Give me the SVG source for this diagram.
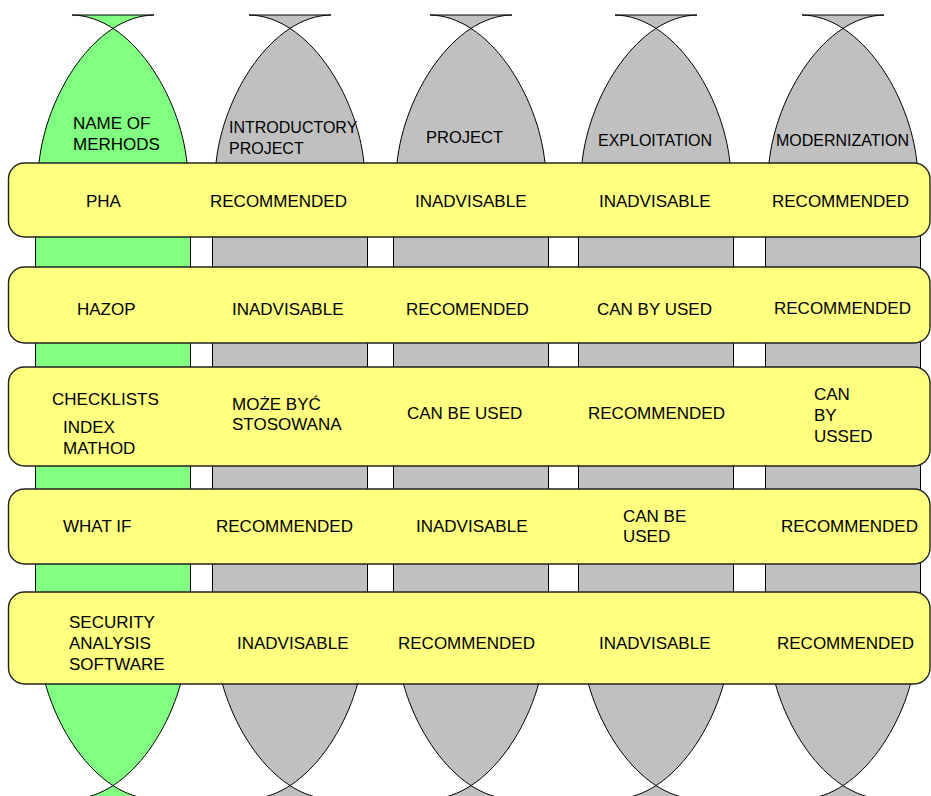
<svg xmlns="http://www.w3.org/2000/svg" xmlns:xlink="http://www.w3.org/1999/xlink" width="931" height="796" viewBox="0 0 931 796">
<style>
.green{fill:#80FF80;stroke:#000;stroke-width:1}
.gray{fill:#C0C0C0;stroke:#000;stroke-width:1}
.band{fill:#FFFF80;stroke:#222;stroke-width:1.4}
text{font-family:"Liberation Sans",Arial,sans-serif;fill:#000}
.h{font-size:16px}
.t{font-size:17px}
</style>
<defs>
<path id="archTop" d="M -74 170 L -74 163 C -67 95 -18 16 41 15 L -41 15 C 18 16 67 95 74 163 L 74 170 Z"/>
<path id="archBot" d="M -74 644 L -74 651 C -67 719 -18 798 41 799 L -41 799 C 18 798 67 719 74 651 L 74 644 Z"/>
<rect id="body" x="-77.5" y="172" width="155" height="505"/>
</defs>

<g id="col-1" class="green">
<use xlink:href="#body" x="113"/>
<use xlink:href="#archTop" x="113"/>
<use xlink:href="#archBot" x="113"/>
<text class="t" x="73" y="129" stroke="none">NAME OF</text>
<text class="t" x="73" y="150" stroke="none">MERHODS</text>
</g>
<g id="col-2" class="gray">
<use xlink:href="#body" x="290"/>
<use xlink:href="#archTop" x="290"/>
<use xlink:href="#archBot" x="290"/>
<text class="h" x="229" y="133" stroke="none">INTRODUCTORY</text>
<text class="h" x="229" y="154" stroke="none">PROJECT</text>
</g>
<g id="col-3" class="gray">
<use xlink:href="#body" x="471"/>
<use xlink:href="#archTop" x="471"/>
<use xlink:href="#archBot" x="471"/>
<text x="426" y="143" stroke="none" font-size="16.5">PROJECT</text>
</g>
<g id="col-4" class="gray">
<use xlink:href="#body" x="656"/>
<use xlink:href="#archTop" x="656"/>
<use xlink:href="#archBot" x="656"/>
<text class="h" x="598" y="146" stroke="none">EXPLOITATION</text>
</g>
<g id="col-5" class="gray">
<use xlink:href="#body" x="843"/>
<use xlink:href="#archTop" x="843"/>
<use xlink:href="#archBot" x="843"/>
<text class="h" x="776" y="146" stroke="none">MODERNIZATION</text>
</g>

<g id="row-pha">
<rect class="band" x="8.5" y="163" width="921.5" height="74" rx="16"/>
<text class="t" x="86" y="207">PHA</text>
<text class="t" x="210" y="207">RECOMMENDED</text>
<text class="t" x="415" y="207">INADVISABLE</text>
<text class="t" x="599" y="207">INADVISABLE</text>
<text class="t" x="772" y="207">RECOMMENDED</text>
</g>
<g id="row-hazop">
<rect class="band" x="8.5" y="267" width="921.5" height="76" rx="16"/>
<text class="t" x="77" y="315">HAZOP</text>
<text class="t" x="232" y="315">INADVISABLE</text>
<text class="t" x="406" y="315">RECOMENDED</text>
<text class="t" x="597" y="315">CAN BY USED</text>
<text class="t" x="774" y="314">RECOMMENDED</text>
</g>
<g id="row-checklists">
<rect class="band" x="8.5" y="367" width="921.5" height="99" rx="16"/>
<text class="t" x="52" y="405">CHECKLISTS</text>
<text class="t" x="63" y="433">INDEX</text>
<text class="t" x="63" y="454">MATHOD</text>
<text class="t" x="232" y="410">MOŻE BYĆ</text>
<text class="t" x="232" y="430">STOSOWANA</text>
<text class="t" x="407" y="419">CAN BE USED</text>
<text class="t" x="588" y="419">RECOMMENDED</text>
<text class="t" x="814" y="400">CAN</text>
<text class="t" x="814" y="421">BY</text>
<text class="t" x="814" y="442">USSED</text>
</g>
<g id="row-whatif">
<rect class="band" x="8.5" y="489" width="921.5" height="75" rx="16"/>
<text class="t" x="63" y="532">WHAT IF</text>
<text class="t" x="216" y="532">RECOMMENDED</text>
<text class="t" x="416" y="532">INADVISABLE</text>
<text class="t" x="623" y="522">CAN BE</text>
<text class="t" x="623" y="542">USED</text>
<text class="t" x="781" y="532">RECOMMENDED</text>
</g>
<g id="row-software">
<rect class="band" x="8.5" y="592" width="921.5" height="92" rx="16"/>
<text class="t" x="69" y="628">SECURITY</text>
<text class="t" x="69" y="649">ANALYSIS</text>
<text class="t" x="69" y="670">SOFTWARE</text>
<text class="t" x="237" y="649">INADVISABLE</text>
<text class="t" x="398" y="649">RECOMMENDED</text>
<text class="t" x="599" y="649">INADVISABLE</text>
<text class="t" x="777" y="649">RECOMMENDED</text>
</g>

<g id="connectors"/>
</svg>
